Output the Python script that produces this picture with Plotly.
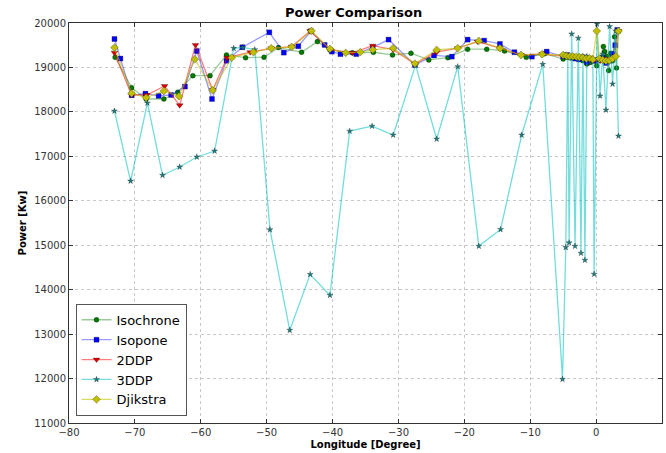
import plotly.graph_objects as go

# ---- data ----
iso_lon = [-73.0, -70.5, -68.3, -65.6, -63.5, -61.2, -58.6, -56.1, -53.2, -50.4, -48.2, -44.7, -42.3, -40.4,
           -37.0, -33.8, -30.9, -28.1, -25.4, -22.5, -19.5, -16.6, -13.9, -10.6, -7.8,
           -5.0, -4.4, -3.8, -3.2, -2.6, -2.0, -1.4, -0.9, -0.4, 0.1, 0.6, 1.1, 1.3, 1.6, 1.9, 2.2, 2.5, 2.8, 3.1, 3.4]
iso_pow = [19230, 18545, 18290, 18290, 18440, 18815, 18815, 19282, 19220, 19230, 19446, 19342, 19581, 19395,
           19330, 19342, 19282, 19320, 19170, 19220, 19410, 19410, 19372, 19230, 19310,
           19190, 19230, 19210, 19200, 19180, 19150, 19080, 19110, 19150, 19040, 19200, 19470, 19360, 19250,
           18930, 19320, 19150, 19690, 18990, 19810]

isp_lon = [-73.1, -72.2, -70.5, -68.4, -66.4, -64.5, -62.4, -60.6, -58.3, -56.1, -53.7, -49.6, -47.4, -45.2,
           -43.3, -41.2, -40.1, -38.8, -36.4, -33.9, -31.5, -27.5, -24.6, -21.9, -19.5, -17.0, -14.6, -12.4,
           -9.75, -7.5, -5.0, -4.4, -3.8, -3.2, -2.6, -2.0, -1.4, -0.8, -0.2, 0.4, 1.0, 1.5, 2.0, 2.5, 2.9, 3.2]
isp_pow = [19640, 19200, 18374, 18410, 18360, 18380, 18570, 19370, 18290, 19150, 19455, 19790, 19333, 19477,
           19815, 19507, 19356, 19300, 19300, 19450, 19626, 19056, 19270, 19243, 19626, 19603, 19529, 19343,
           19243, 19356, 19250, 19280, 19230, 19200, 19180, 19230, 19120, 19200, 19150, 19180, 19220, 19100,
           19150, 19300, 19500, 19845]

ddp2_lon = [-73.1, -70.5, -68.2, -65.5, -63.2, -60.8, -58.2, -56.0, -52.5, -49.3, -46.2, -43.4, -40.4, -37.0,
            -33.9, -30.8, -27.5, -24.2, -21.0, -18.0, -14.6, -11.4, -8.2,
            -5.0, -4.3, -3.6, -2.9, -2.2, -1.5, -0.8, -0.1, 0.6, 1.3, 2.0, 2.7, 3.4]
ddp2_pow = [19333, 18380, 18380, 18583, 18150, 19507, 18493, 19220, 19343, 19430, 19470, 19820, 19400, 19330,
            19490, 19400, 19080, 19343, 19432, 19581, 19432, 19280, 19300,
            19260, 19250, 19240, 19230, 19220, 19200, 19190, 19180, 19150, 19200, 19150, 19250, 19820]

ddp3_lon = [-73.1, -70.65, -68.1, -65.8, -63.2, -60.6, -57.9, -55.0, -53.6, -51.8, -49.5, -46.5, -43.4, -40.4,
            -37.4, -34.0, -30.8, -27.4, -24.2, -21.0, -17.8, -14.5, -11.3, -8.1, -5.1, -4.6, -4.3, -4.1,
            -3.7, -3.2, -2.7, -2.3, -2.0, -1.7, -1.4, -0.5, -0.3, 0.15, 0.6, 1.0, 1.5, 2.05, 2.5, 2.95, 3.4]
ddp3_pow = [18020, 16444, 18200, 16574, 16760, 16985, 17120, 19430, 19450, 19400, 15350, 13088, 14344, 13875,
            17567, 17680, 17480, 19053, 17390, 19018, 14980, 15355, 17480, 19072, 11984, 14950, 19250, 15055,
            19755, 14980, 19660, 14822, 19250, 14665, 19250, 19200, 14350, 19980, 18358, 19300, 18043, 19920,
            18628, 19820, 17457]

dj_lon = [-73.1, -70.5, -68.3, -65.6, -63.3, -60.9, -58.2, -55.3, -52.0, -49.3, -46.2, -43.2, -40.4, -38.0,
          -35.8, -33.9, -30.8, -27.5, -24.2, -21.0, -17.8, -14.6, -11.4, -8.2,
          -5.0, -4.5, -4.0, -3.5, -3.0, -2.5, -2.0, -1.5, -1.0, -0.5, 0.1, 0.5, 1.0, 1.5, 2.0, 2.5, 3.0, 3.4]
dj_pow = [19446, 18418, 18320, 18470, 18350, 19185, 18487, 19220, 19343, 19432, 19462, 19822, 19417, 19330,
          19343, 19400, 19432, 19086, 19395, 19432, 19597, 19432, 19280, 19297,
          19280, 19260, 19250, 19250, 19240, 19230, 19220, 19200, 19210, 19180, 19820, 19200, 19170, 19150,
          19160, 19200, 19250, 19820]

series = [
    ("Isochrone", iso_lon, iso_pow, "rgba(0,128,0,0.4)", "#007a00", "circle", 5),
    ("Isopone", isp_lon, isp_pow, "rgba(0,0,255,0.4)", "#0000ff", "square", 5),
    ("2DDP", ddp2_lon, ddp2_pow, "rgba(255,0,0,0.5)", "#dd0000", "triangle-down", 6),
    ("3DDP", ddp3_lon, ddp3_pow, "rgba(0,191,191,0.55)", "#1f7f7f", "star", 4.5),
    ("Djikstra", dj_lon, dj_pow, "rgba(191,191,0,0.6)", "#bfbf00", "diamond", 6),
]

fig = go.Figure()
for name, xs, ys, lc, mc, sym, sz in series:
    fig.add_trace(go.Scatter(
        x=xs, y=ys, mode="lines+markers", name=name,
        line=dict(color=lc, width=1.3),
        marker=dict(color=mc, symbol=sym, size=sz, line=dict(color="rgba(0,0,0,0.5)", width=0.5)),
    ))

axis_common = dict(
    showgrid=True, gridcolor="#c8c8c8", griddash="dot", gridwidth=1,
    showline=True, linecolor="#333333", linewidth=1, mirror="allticks",
    ticks="inside", ticklen=4, tickcolor="#333333",
    tickfont=dict(family="DejaVu Sans", size=10, color="#333333"),
    zeroline=False, automargin=False,
)

fig.update_layout(
    width=666, height=453,
    margin=dict(l=69, r=4, t=23, b=30),
    paper_bgcolor="white", plot_bgcolor="white",
    title=dict(text="<b>Power Comparison</b>", x=0.531, xanchor="center", y=0.973, yanchor="middle",
               font=dict(family="DejaVu Sans", size=13, color="black")),
    xaxis=dict(range=[-80, 10], dtick=10, tick0=0,
               title=dict(text="<b>Longitude [Degree]</b>", standoff=3,
                          font=dict(family="DejaVu Sans", size=10, color="black")),
               **axis_common),
    yaxis=dict(range=[11000, 20000], dtick=1000, tickformat="d",
               title=dict(text="<b>Power [Kw]</b>", standoff=5,
                          font=dict(family="DejaVu Sans", size=10, color="black")),
               **axis_common),
    legend=dict(x=0.011, y=0.018, xanchor="left", yanchor="bottom",
                bgcolor="white", bordercolor="#555555", borderwidth=1,
                font=dict(family="DejaVu Sans", size=13, color="black"),
                itemwidth=30, tracegroupgap=0),
    showlegend=True,
)

fig.write_html("out.html", config={"displayModeBar": False},
               post_script="document.body.style.margin='0px';document.body.style.overflow='hidden';")
